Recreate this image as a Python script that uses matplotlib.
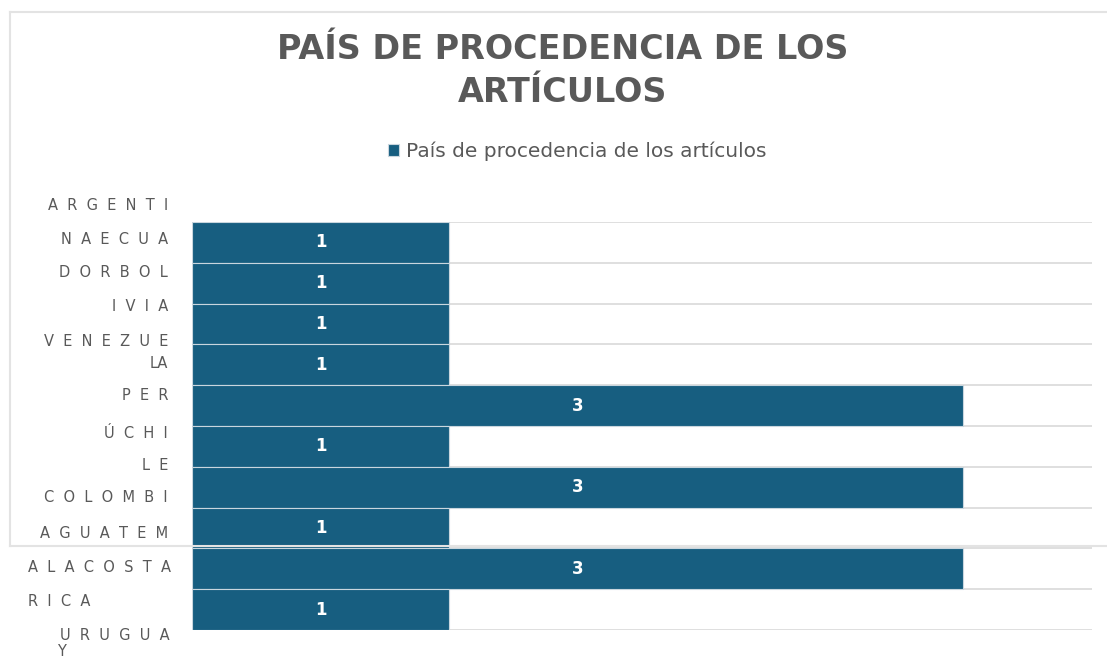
import matplotlib
matplotlib.use("Agg")
import matplotlib.pyplot as plt
from matplotlib.lines import Line2D

# ---- data ----
categories = ["Argentina", "Ecuador", "Bolivia", "Venezuela", "Perú", "Chile",
              "Colombia", "Guatemala", "Costa Rica", "Uruguay"]
values = [1, 1, 1, 1, 3, 1, 3, 1, 3, 1]
# category label text as it is wrapped in the original picture
label_lines = ["ARGENTI", "NAECUA", "DORBOL", "IVIA", "VENEZUE", "LA", "PER",
               "ÚCHI", "LE", "COLOMBI", "AGUATEM", "ALACOSTA", "RICA", "URUGUA", "Y"]
title = "PAÍS DE PROCEDENCIA DE LOS\nARTÍCULOS"
series_name = "País de procedencia de los artículos"

BAR = "#175e80"
GREY = "#595959"
GRID = "#d9d9d9"

W, H = 1107, 660
fig = plt.figure(figsize=(W / 100, H / 100), dpi=100)
fig.patch.set_facecolor("white")

def fx(px):
    return px / W

def fy(py):
    return 1 - py / H

ax = fig.add_axes([fx(192), fy(630), fx(1092) - fx(192), (630 - 222) / H])
ypos = list(range(len(categories)))
bars = ax.barh(ypos, values, height=1.0, color=BAR, edgecolor="#c9d6de",
               linewidth=0.8, zorder=3, label=series_name)
ax.set_xlim(0, 3.5)
ax.set_ylim(len(categories) - 0.5, -0.5)
for b, v in zip(bars, values):
    ax.text(b.get_x() + b.get_width() / 2, b.get_y() + b.get_height() / 2, str(v),
            ha="center", va="center", color="white", fontsize=12, fontweight="bold",
            zorder=4)
# horizontal gridlines at category boundaries
for k in range(len(categories) + 1):
    ax.axhline(k - 0.5, color=GRID, linewidth=1.2, zorder=1)
ax.set_xticks([])
ax.set_yticks([])
for s in ax.spines.values():
    s.set_visible(False)

# title
fig.text(fx(563), fy(71), title, ha="center", va="center", fontsize=24,
         fontweight="bold", color=GREY, linespacing=1.4)

# legend
leg = fig.legend(handles=[bars], labels=[series_name], loc="center",
                 bbox_to_anchor=(fx(577), fy(151)), frameon=False, fontsize=14.5,
                 handlelength=0.55, handleheight=0.55, handletextpad=0.35,
                 labelcolor=GREY)

# wrapped category label lines
line_y = [206, 240, 273, 307, 341, 363, 396, 433, 465, 498, 533, 568, 602, 635, 652]
line_x = [168, 168, 168, 168, 168, 168, 168, 168, 168, 168, 168, 28, 28, 170, 57]
line_ha = ["right"] * 11 + ["left", "left", "right", "left"]
for t, yy, xx, ha in zip(label_lines, line_y, line_x, line_ha):
    txt = t if t == "LA" else "  ".join(t)
    fig.text(fx(xx), fy(yy), txt, ha=ha, va="center", fontsize=10.5, color=GREY)

# frame pieces of the original screenshot
fig.add_artist(Line2D([fx(10), fx(1107)], [fy(12), fy(12)], color="#e3e3e3", lw=1.5))
fig.add_artist(Line2D([fx(10), fx(10)], [fy(12), fy(546)], color="#e3e3e3", lw=1.5))
fig.add_artist(Line2D([fx(10), fx(1107)], [fy(546), fy(546)], color="#e3e3e3", lw=1.5))

fig.savefig("out.png", dpi=100, facecolor="white")
